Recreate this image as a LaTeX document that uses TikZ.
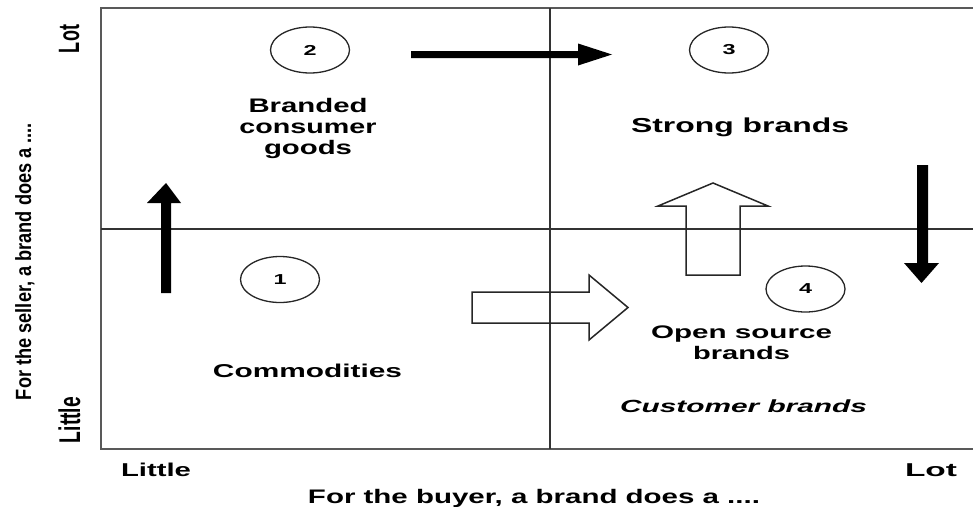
\documentclass[tikz,border=0pt]{standalone}
\usepackage{fontspec}
\setmainfont{Liberation Sans}
\usepackage{graphicx}
\usetikzlibrary{shapes.geometric}
% stretch a piece of text to a given width and a vertical factor
\newcommand\fitto[3]{\resizebox{#1}{#2\height}{#3}}

\begin{document}
\begin{tikzpicture}[x=1pt,y=-1pt,
  lbl/.style={inner sep=0pt, anchor=base, font=\fontsize{20}{24}\selectfont\bfseries},
  numring/.style={ellipse, draw=black!85, line width=1.3pt, minimum width=79pt,
    minimum height=46pt, inner sep=0pt, font=\fontsize{20}{24}\selectfont\bfseries},
  framepen/.style={draw=black!65, line width=2pt},
  axispen/.style={draw=black!80, line width=1.4pt},
  solidarrow/.style={fill=black, draw=none},
  openarrow/.style={draw=black!85, line width=1.5pt, line join=miter}]

\useasboundingbox (0,0) rectangle (973,506);

% frame and quadrant dividers
\draw[framepen] (975,8) -- (101,8) -- (101,449) -- (975,449);
\draw[axispen] (101,229) -- (975,229);
\draw[axispen] (550,8) -- (550,449);

% quadrant numbers
\node[numring] (n1) at (280,279.5) {\fitto{13pt}{0.72}{1}};
\node[numring] (n2) at (310,50)    {\fitto{13pt}{0.72}{2}};
\node[numring] (n3) at (729,50)    {\fitto{13pt}{0.72}{3}};
\node[numring] (n4) at (805.5,289) {\fitto{13pt}{0.72}{4}};

% quadrant labels
\node[lbl] (q2a) at (308,112) {\fitto{119pt}{0.98}{Branded}};
\node[lbl] (q2b) at (308,133) {\fitto{137pt}{0.98}{consumer}};
\node[lbl] (q2c) at (308,154) {\fitto{88pt}{0.98}{goods}};
\node[lbl] (q3)  at (740,132) {\fitto{218pt}{1.01}{Strong brands}};
\node[lbl] (q1)  at (307.5,377) {\fitto{189pt}{0.93}{Commodities}};
\node[lbl] (q4a) at (741.5,338) {\fitto{181pt}{0.91}{Open source}};
\node[lbl] (q4b) at (741.5,359) {\fitto{97pt}{0.91}{brands}};
\node[lbl] (q4c) at (743.5,412) {\fitto{247pt}{0.88}{\itshape Customer brands}};

% axis labels
\node[lbl] (xlo)  at (156,476) {\fitto{70pt}{0.93}{Little}};
\node[lbl] (xhi)  at (931,476) {\fitto{52pt}{0.93}{Lot}};
\node[lbl] (xlab) at (534,503) {\fitto{452pt}{0.98}{For the buyer, a brand does a ....}};
\node[lbl, rotate=90] (ylo)  at (80,420)    {\fitto{46pt}{1.5}{Little}};
\node[lbl, rotate=90] (yhi)  at (79,39)     {\fitto{28pt}{1.47}{Lot}};
\node[lbl, rotate=90] (ylab) at (31,261.5)  {\fitto{277pt}{1.1}{For the seller, a brand does a ....}};

% solid movement arrows
\fill[solidarrow] (161,293) -- (161,203) -- (147,203) -- (166,183) -- (181,203)
  -- (171,203) -- (171,293) -- cycle;
\fill[solidarrow] (411,51) -- (578,51) -- (578,43.5) -- (612,54.5) -- (578,65.5)
  -- (578,58) -- (411,58) -- cycle;
\fill[solidarrow] (917,165) -- (928,165) -- (928,263) -- (939,263) -- (921.5,283)
  -- (904,263) -- (917,263) -- cycle;

% outlined movement arrows
\draw[openarrow] (472,292) -- (589,292) -- (589,275) -- (628,307.5) -- (589,340)
  -- (589,323) -- (472,323) -- cycle;
\draw[openarrow] (686,275) -- (686,206) -- (658,206) -- (713,183) -- (768,206)
  -- (740,206) -- (740,275) -- cycle;
\end{tikzpicture}
\end{document}
